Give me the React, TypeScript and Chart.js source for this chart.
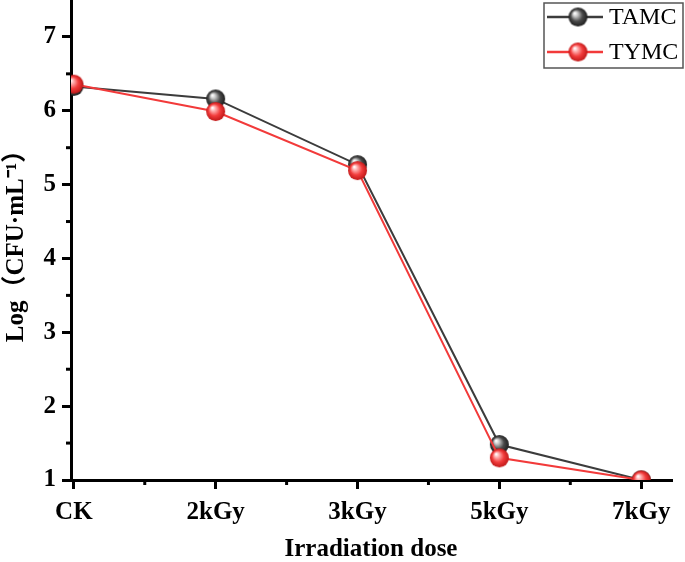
import React, { useEffect, useRef } from 'react';
import { Chart, registerables } from 'chart.js';

Chart.register(...registerables);

// values
const doses = ['CK', '2kGy', '3kGy', '5kGy', '7kGy'];
const tamc = [6.33, 6.16, 5.27, 1.48, 1.0];
const tymc = [6.36, 5.99, 5.19, 1.3, 1.0];
const seriesNames = ['TAMC', 'TYMC'];

const FONT = "'Times New Roman', 'Liberation Serif', 'Noto Sans CJK SC', serif";

// shaded ball marker, like the Origin sphere symbol
const makeSphere = (r: number, light: string, mid: string, dark: string) => {
    const c = document.createElement('canvas');
    const size = r * 2 + 2;
    c.width = size;
    c.height = size;
    const ctx = c.getContext('2d')!;
    const cx = size / 2;
    const cy = size / 2;
    const g = ctx.createRadialGradient(cx - r * 0.35, cy - r * 0.4, r * 0.05, cx, cy, r);
    g.addColorStop(0, '#ffffff');
    g.addColorStop(0.22, light);
    g.addColorStop(0.6, mid);
    g.addColorStop(1, dark);
    ctx.fillStyle = g;
    ctx.beginPath();
    ctx.arc(cx, cy, r, 0, Math.PI * 2);
    ctx.fill();
    return c;
};

// half-step ticks, shorter than the labelled ones
const minorTicks = {
    id: 'minorTicks',
    afterDraw(chart: any) {
        const { ctx, scales } = chart;
        const x = scales.x;
        const y = scales.y;
        ctx.save();
        ctx.strokeStyle = '#000';
        ctx.lineWidth = 3;
        for (let v = 0.5; v < x.max; v += 1) {
            const px = x.getPixelForValue(v);
            ctx.beginPath();
            ctx.moveTo(px, x.top);
            ctx.lineTo(px, x.top + 5);
            ctx.stroke();
        }
        for (let v = 1.5; v < y.max; v += 1) {
            const py = y.getPixelForValue(v);
            ctx.beginPath();
            ctx.moveTo(y.right, py);
            ctx.lineTo(y.right - 5, py);
            ctx.stroke();
        }
        ctx.restore();
    },
};

// boxed legend in the top right corner, line through the marker
const boxLegend = {
    id: 'boxLegend',
    afterDraw(chart: any) {
        const { ctx } = chart;
        const left = 544;
        const top = 3;
        const w = 139;
        const h = 65;
        ctx.save();
        ctx.fillStyle = '#fff';
        ctx.fillRect(left, top, w, h);
        ctx.strokeStyle = '#555';
        ctx.lineWidth = 1.5;
        ctx.strokeRect(left, top, w, h);
        chart.data.datasets.forEach((ds: any, i: number) => {
            const cy = top + 14 + i * 35;
            ctx.strokeStyle = ds.borderColor;
            ctx.lineWidth = 2.5;
            ctx.beginPath();
            ctx.moveTo(left + 3, cy);
            ctx.lineTo(left + 59, cy);
            ctx.stroke();
            const img = ds.pointStyle as HTMLCanvasElement;
            ctx.drawImage(img, left + 34 - img.width / 2, cy - img.height / 2);
            ctx.fillStyle = '#000';
            ctx.font = `24px ${FONT}`;
            ctx.textBaseline = 'middle';
            ctx.fillText(ds.label, left + 65, cy + 1);
        });
        ctx.restore();
    },
};

const App: React.FC = () => {
    const canvasRef = useRef<HTMLCanvasElement>(null);

    useEffect(() => {
        if (!canvasRef.current) return;
        const grayBall = makeSphere(9.5, '#c8c8c8', '#4a4a4a', '#1e1e1e');
        const redBall = makeSphere(9.5, '#ffb0b0', '#f23c3c', '#c01818');

        const chart = new Chart(canvasRef.current, {
            type: 'line',
            data: {
                datasets: [
                    {
                        label: seriesNames[0],
                        data: tamc.map((v, i) => ({ x: i, y: v })),
                        borderColor: '#3c3c3c',
                        borderWidth: 2,
                        pointStyle: grayBall,
                        order: 2,
                    },
                    {
                        label: seriesNames[1],
                        data: tymc.map((v, i) => ({ x: i, y: v })),
                        borderColor: '#f23a3a',
                        borderWidth: 2,
                        pointStyle: redBall,
                        order: 1,
                    },
                ],
            },
            options: {
                responsive: false,
                animation: false,
                layout: { autoPadding: false, padding: { top: 0, right: 14, left: 0, bottom: 0 } },
                plugins: {
                    legend: { display: false },
                    tooltip: { enabled: false },
                },
                scales: {
                    x: {
                        type: 'linear',
                        min: -0.02,
                        max: 4.21,
                        afterFit: (s: any) => {
                            s.height = 82;
                            s.paddingLeft = 0;
                            s.paddingRight = 0;
                        },
                        border: { display: true, color: '#000', width: 3 },
                        grid: { drawOnChartArea: false, color: '#000', lineWidth: 3, tickWidth: 3, tickLength: 9 },
                        ticks: {
                            stepSize: 1,
                            includeBounds: false,
                            autoSkip: false,
                            maxRotation: 0,
                            padding: 9,
                            color: '#000',
                            font: { family: FONT, size: 25, weight: 'bold' },
                            callback: (v: any) => (Number.isInteger(v) ? doses[v] : ''),
                        },
                        title: {
                            display: true,
                            text: 'Irradiation dose',
                            color: '#000',
                            padding: { top: 10, bottom: -3 },
                            font: { family: FONT, size: 25, weight: 'bold' },
                        },
                    },
                    y: {
                        min: 1,
                        max: 7.5,
                        afterFit: (s: any) => {
                            s.width = 71;
                            s.paddingTop = 0;
                            s.paddingBottom = 0;
                        },
                        border: { display: true, color: '#000', width: 3 },
                        grid: { drawOnChartArea: false, color: '#000', lineWidth: 3, tickWidth: 3, tickLength: 9 },
                        ticks: {
                            stepSize: 1,
                            includeBounds: false,
                            padding: 6,
                            color: '#000',
                            font: { family: FONT, size: 25, weight: 'bold' },
                        },
                        title: {
                            display: true,
                            text: 'Log（CFU·mL⁻¹）',
                            color: '#000',
                            padding: { top: 2, bottom: 0 },
                            font: { family: FONT, size: 25, weight: 'bold' },
                        },
                    },
                },
            },
            plugins: [minorTicks, boxLegend],
        });

        return () => {
            chart.destroy();
        };
    }, []);

    return (
        <div style={{ position: 'absolute', left: 0, top: 0, width: 685, height: 562, background: '#fff' }}>
            <canvas ref={canvasRef} width={685} height={562} />
        </div>
    );
};

export default App;
